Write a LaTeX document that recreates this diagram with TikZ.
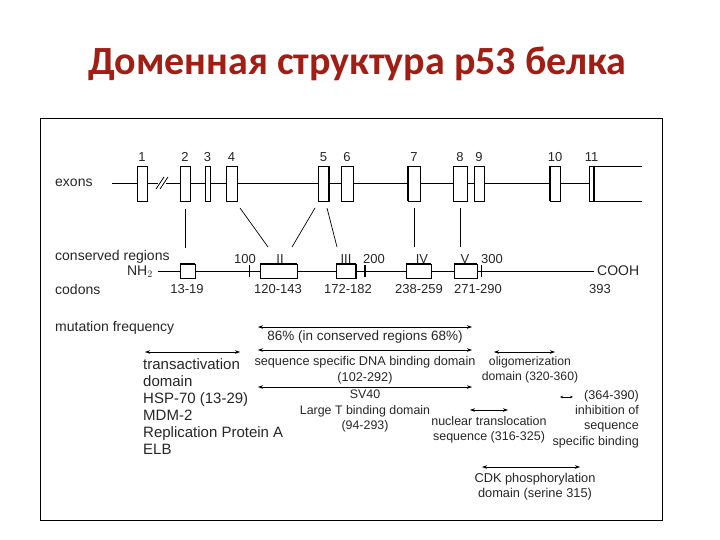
\documentclass[tikz,border=0pt]{standalone}
\usepackage{fontspec}
\setmainfont{Liberation Sans}
\newfontfamily\titlefont{Carlito}
\definecolor{ttl}{RGB}{160,30,20}
\usetikzlibrary{arrows.meta}
\begin{document}
\begin{tikzpicture}[x=1pt,y=-1pt,
  lbl/.style={font=\fontsize{14}{15}\selectfont,inner sep=0pt,text=black!85},
  num/.style={font=\fontsize{13}{15}\selectfont,inner sep=0pt,text=black!85},
  ex/.style={draw,line width=0.6pt},
  dar/.style={{Stealth[length=5pt,width=3.5pt]}-{Stealth[length=5pt,width=3.5pt]},line width=0.6pt},
  ln/.style={line width=0.7pt}]
\useasboundingbox (0,0) rectangle (720,540);
\node[font=\titlefont\bfseries\fontsize{40}{44}\selectfont,text=ttl] (title) at (357,64) {Доменная структура p53 белка};
\draw[line width=0.8pt] (40,118) rectangle (662,520);
% exons
\node[lbl,anchor=west] (exl) at (55,183) {exons};
\draw[ln] (112,183) -- (589,183);
\draw[ln] (594,166) -- (642,166) (594,201) -- (642,201);
\foreach \a/\b/\n/\t in {137/147/1/e1,180/190/2/e2,205/210/3/e3,226/237/4/e4,318/329/5/e5,341/353/6/e6,408/420/7/e7,453/467/8/e8,474/484/9/e9,550/560/10/e10,589/594/11/e11}{
  \draw[ex,fill=white] (\a,166) rectangle (\b,201);
  \node[num] (\t n) at ({(\a+\b)/2},157) {\n};
  \coordinate (\t) at ({(\a+\b)/2},201);
}
\draw[line width=1.6pt] (329,166)--(329,201) (408,166)--(408,201) (550,166)--(550,201) (594,166)--(594,201);
\fill[white] (158,178) rectangle (166,188);
\draw[ln] (156,189)--(164,177) (160,189)--(168,177);
% connectors
\coordinate (c2a) at (185,209); \coordinate (c2b) at (185,248);
\draw[line width=1pt] (c2a)--(c2b);
\coordinate (c4a) at (240,208); \coordinate (c4b) at (268,247);
\draw[ln] (c4a)--(c4b);
\coordinate (c5a) at (315,208); \coordinate (c5b) at (292,247);
\draw[ln] (c5a)--(c5b);
\coordinate (c5c) at (327,208); \coordinate (c5d) at (337,247);
\draw[ln] (c5c)--(c5d);
\coordinate (c7a) at (414,208); \coordinate (c7b) at (414,247);
\draw[line width=1pt] (c7a)--(c7b);
\coordinate (c8a) at (460,208); \coordinate (c8b) at (460,247);
\draw[ln] (c8a)--(c8b);
% protein
\node[lbl,anchor=west] (crl) at (55,257) {conserved regions};
\node[lbl,anchor=west] (cdl) at (55,289) {codons};
\node[lbl] (nh2) at (140,272) {NH$_2$};
\node[lbl,anchor=west] (cooh) at (597,271) {COOH};
\draw[ln] (158,271) -- (594,271);
\foreach \a/\b in {180/195,260/297,336/356,406/431,454/477}{
  \draw[ex,fill=white] (\a,264) rectangle (\b,278);
  \draw[line width=1.4pt] (\a,264)--(\b,264);
}
\draw[line width=1.4pt] (356,264)--(356,278);
\draw[ln] (249,265)--(249,277) (481,265)--(481,277);
\draw[line width=1.4pt] (365,265)--(365,277);
\foreach \x/\t in {245/100,280/II,346/III,374/200,422/IV,465/V,492/300}{\node[num] at (\x,259) {\t};}
\foreach \x/\t in {187/13-19,278/120-143,348/172-182,419/238-259,478/271-290,600/393}{\node[num] at (\x,289) {\t};}
% functional domains
\node[lbl,anchor=west] (mf) at (55,328) {mutation frequency};
\draw[dar] (258,327)--(472,327);
\node[lbl,font=\fontsize{13.5}{15}\selectfont] (m86) at (365,337) {86\% (in conserved regions 68\%)};
\draw[dar] (145,352)--(240,352);
\node[lbl,anchor=north west,align=left,font=\fontsize{15}{17}\selectfont] (ta) at (143,358) {transactivation\\domain\\HSP-70 (13-29)\\MDM-2\\Replication Protein A\\ELB};
\draw[dar] (258,350)--(472,350);
\node[lbl,align=center,font=\fontsize{12.7}{16}\selectfont] (sdb) at (365,370) {sequence specific DNA binding domain\\(102-292)};
\draw[dar] (258,387)--(472,387);
\node[lbl,align=center,font=\fontsize{12.4}{15.5}\selectfont] (sv) at (365,411) {SV40\\Large T binding domain\\(94-293)};
\draw[dar] (494,352)--(555,352);
\node[lbl,align=center,font=\fontsize{12.2}{15}\selectfont] (olig) at (530,370) {oligomerization\\domain (320-360)};
\draw[dar] (470,410)--(508,410);
\node[lbl,align=center,font=\fontsize{12.5}{15}\selectfont] (nls) at (489,430) {nuclear translocation\\sequence (316-325)};
\draw[{Stealth[length=3pt,width=2.5pt]}-{Stealth[length=3pt,width=2.5pt]},line width=0.5pt] (560,397)--(573,397);
\node[lbl,align=right,anchor=east,font=\fontsize{12.6}{15.3}\selectfont] (inh) at (639,419) {(364-390)\\inhibition of\\sequence\\specific binding};
\draw[dar] (482,467)--(580,467);
\node[lbl,align=center,font=\fontsize{12.8}{15}\selectfont] (cdk) at (535,487) {CDK phosphorylation\\domain (serine 315)};
\end{tikzpicture}
\end{document}
